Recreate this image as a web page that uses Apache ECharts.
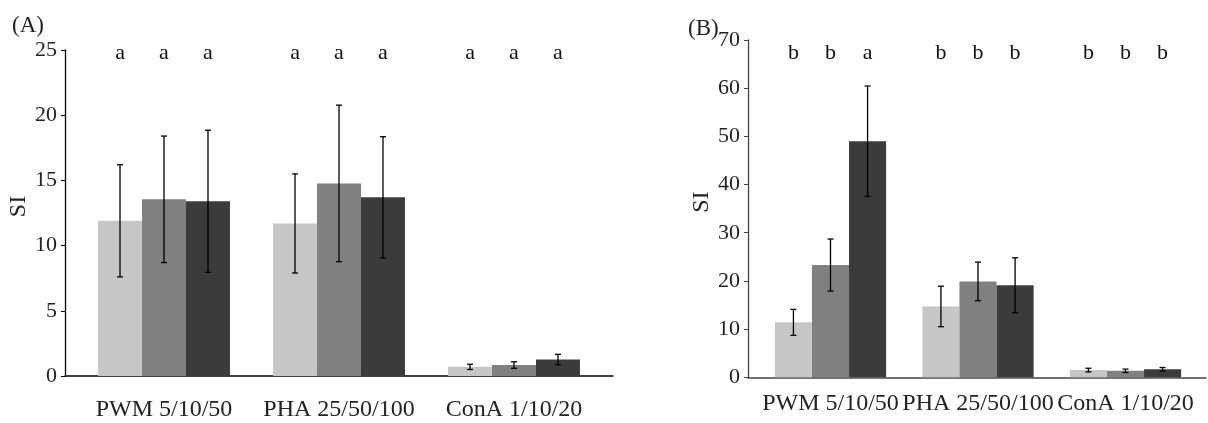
<!DOCTYPE html>
<html>
<head>
<meta charset="utf-8">
<script src="https://cdn.jsdelivr.net/npm/echarts@6/dist/echarts.min.js"></script>
<style>html,body{margin:0;padding:0;background:#fff}#c{width:1208px;height:423px}</style>
</head>
<body>
<div id="c"></div>
<script>
const categories = ['PWM 5/10/50', 'PHA 25/50/100', 'ConA 1/10/20'];
// Panel A
const aLow = [11.9, 11.7, 0.7];
const aLowErr = [4.3, 3.8, 0.2];
const aMid = [13.55, 14.77, 0.84];
const aMidErr = [4.85, 6.0, 0.25];
const aHigh = [13.4, 13.7, 1.26];
const aHighErr = [5.45, 4.65, 0.4];
const aLetters = [['a', 'a', 'a'], ['a', 'a', 'a'], ['a', 'a', 'a']];
// Panel B
const bLow = [11.4, 14.7, 1.5];
const bLowErr = [2.7, 4.2, 0.38];
const bMid = [23.3, 19.9, 1.35];
const bMidErr = [5.4, 4.0, 0.35];
const bHigh = [49.0, 19.1, 1.65];
const bHighErr = [11.45, 5.7, 0.38];
const bLetters = [['b', 'b', 'b'], ['b', 'b', 'b'], ['a', 'b', 'b']]; // [series][category]
const yTicksA = [0, 5, 10, 15, 20, 25];
const yTicksB = [0, 10, 20, 30, 40, 50, 60, 70];

const colors = ['#c6c6c6', '#808080', '#3b3b3b'];
const CAT_GAP = 0.246;
const FONT = 'Liberation Serif';

function errSeries(xi, yi, k, vals, errs, letters, letterLevel) {
  return {
    type: 'custom', xAxisIndex: xi, yAxisIndex: yi, z: 10,
    data: vals.map((v, i) => [i, v, errs[i]]),
    encode: {x: 0, y: 1},
    renderItem: function (params, api) {
      const idx = api.value(0), v = api.value(1), e = api.value(2);
      const band = api.size([1, 0])[0];
      const bw = band * (1 - CAT_GAP) / 3;
      const cx = api.coord([idx, v])[0] + (k - 1) * bw;
      const yt = api.coord([idx, v + e])[1];
      const yb = api.coord([idx, v - e])[1];
      const ly = api.coord([idx, letterLevel])[1];
      const cap = 3;
      const ls = {stroke: '#000', lineWidth: 1.3};
      return {
        type: 'group',
        children: [
          {type: 'line', shape: {x1: cx, y1: yt, x2: cx, y2: yb}, style: ls},
          {type: 'line', shape: {x1: cx - cap, y1: yt, x2: cx + cap, y2: yt}, style: ls},
          {type: 'line', shape: {x1: cx - cap, y1: yb, x2: cx + cap, y2: yb}, style: ls},
          {type: 'text', style: {text: letters[idx], x: cx, y: ly, fill: '#111',
            font: '22px "' + FONT + '"', align: 'center', verticalAlign: 'middle'}}
        ]
      };
    }
  };
}
function barSeries(xi, yi, k, vals) {
  return {
    type: 'bar', xAxisIndex: xi, yAxisIndex: yi, data: vals,
    barGap: '0%', barCategoryGap: (CAT_GAP * 100) + '%',
    itemStyle: {color: colors[k]}, silent: true
  };
}

const chart = echarts.init(document.getElementById('c'), null, {renderer: 'canvas'});
const txt = {fontFamily: FONT, color: '#222'};
function catAxis(gi, margin) {
  return {type: 'category', gridIndex: gi, data: categories,
    axisLine: {show: false}, axisTick: {show: false},
    axisLabel: Object.assign({fontSize: 24, margin: margin, interval: 0, hideOverlap: false}, txt)};
}
function lineAxis(gi, color) {
  return {type: 'value', gridIndex: gi, min: 0, max: 1,
    axisLine: {show: true, onZero: false, lineStyle: {color: color, width: 1.5}},
    axisTick: {show: false}, axisLabel: {show: false}, splitLine: {show: false}};
}
function valAxis(gi, max, interval, offset, color) {
  return {type: 'value', gridIndex: gi, min: 0, max: max, interval: interval, offset: offset,
    name: 'SI', nameLocation: 'middle', nameGap: 34, nameRotate: 90,
    nameTextStyle: Object.assign({fontSize: 24, padding: [0, 0, 0, 13]}, txt),
    axisLine: {show: true, lineStyle: {color: color, width: 1.3}},
    axisTick: {show: true, length: 4, lineStyle: {color: color}},
    axisLabel: Object.assign({fontSize: 22, margin: 8}, txt),
    splitLine: {show: false}};
}
function hiddenY(gi) {
  return {type: 'value', gridIndex: gi, show: false, min: 0, max: 1};
}

chart.setOption({
  animation: false,
  title: [
    {text: '(A)', left: 7, top: 9, textStyle: Object.assign({fontSize: 23, fontWeight: 'normal'}, txt)},
    {text: '(B)', left: 683, top: 12, textStyle: Object.assign({fontSize: 23, fontWeight: 'normal'}, txt)}
  ],
  grid: [
    {left: 76.5, right: 606.5, top: 50, bottom: 47},
    {left: 756.75, right: 8.75, top: 40, bottom: 45.7},
    {left: 65, right: 595, top: 50, bottom: 47},
    {left: 748, right: 2, top: 40, bottom: 45.7}
  ],
  xAxis: [catAxis(0, 22), catAxis(1, 14), lineAxis(2, '#000'), lineAxis(3, '#444')],
  yAxis: [valAxis(0, 25, 5, 11.5, '#000'), valAxis(1, 70, 10, 8.75, '#444'), hiddenY(2), hiddenY(3)],
  series: [
    barSeries(0, 0, 0, aLow), barSeries(0, 0, 1, aMid), barSeries(0, 0, 2, aHigh),
    errSeries(0, 0, 0, aLow, aLowErr, aLetters[0], 24.75),
    errSeries(0, 0, 1, aMid, aMidErr, aLetters[1], 24.75),
    errSeries(0, 0, 2, aHigh, aHighErr, aLetters[2], 24.75),
    barSeries(1, 1, 0, bLow), barSeries(1, 1, 1, bMid), barSeries(1, 1, 2, bHigh),
    errSeries(1, 1, 0, bLow, bLowErr, bLetters[0], 67.3),
    errSeries(1, 1, 1, bMid, bMidErr, bLetters[1], 67.3),
    errSeries(1, 1, 2, bHigh, bHighErr, bLetters[2], 67.3)
  ]
});
</script>
</body>
</html>
